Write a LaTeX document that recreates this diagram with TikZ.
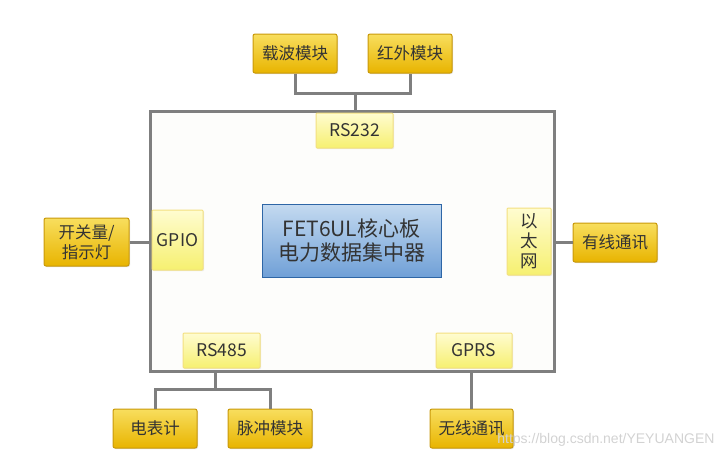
\documentclass[tikz,border=0pt]{standalone}
\usepackage{fontspec}
\setmainfont{Noto Sans CJK SC}
\newfontfamily\wmfont{Liberation Sans}
\usetikzlibrary{positioning, shadows}

\definecolor{goldtop}{HTML}{F8DE5E}
\definecolor{goldbot}{HTML}{E8B400}
\definecolor{goldline}{HTML}{C9990A}
\definecolor{paletop}{HTML}{FFFCD0}
\definecolor{palebot}{HTML}{F6F070}
\definecolor{paleline}{HTML}{F3E080}
\definecolor{bluetop}{HTML}{C4DAF0}
\definecolor{bluebot}{HTML}{70A0D7}
\definecolor{blueline}{HTML}{2E66A6}
\definecolor{wiregray}{HTML}{7F7F7F}
\definecolor{inkgray}{HTML}{333333}
\definecolor{boardfill}{HTML}{FDFDFB}

\begin{document}
\begin{tikzpicture}[x=1pt, y=-1pt, on grid,
  module/.style={rectangle, rounded corners=2pt, draw=goldline, line width=1pt, top color=goldtop, bottom color=goldbot, minimum width=84pt, minimum height=39pt, inner sep=0pt, align=center, text=inkgray, font=\fontsize{16.5}{20}\selectfont, drop shadow={shadow xshift=1pt, shadow yshift=-1pt, opacity=.25}},
  port/.style={rectangle, rounded corners=1pt, draw=paleline, line width=1pt, top color=paletop, bottom color=palebot, inner sep=0pt, align=center, text=inkgray, font=\fontsize{17.5}{20}\selectfont, drop shadow={shadow xshift=1pt, shadow yshift=-1pt, opacity=.15}},
  core/.style={rectangle, draw=blueline, line width=1pt, top color=bluetop, bottom color=bluebot, minimum width=179pt, minimum height=73pt, inner sep=0pt, align=center, text=inkgray, font=\fontsize{21}{24}\selectfont, drop shadow={shadow xshift=1pt, shadow yshift=-1pt, opacity=.25}},
  board/.style={rectangle, draw=wiregray, line width=3pt, fill=boardfill, minimum width=404pt, minimum height=260pt, inner sep=0pt},
  wire/.style={draw=wiregray, line width=3pt}]

  \useasboundingbox (0,0) rectangle (727,459);

  % main board
  \node[board] (board) at (352,241) {};
  \node[core] (fet) at (351.5,240.5) {FET6UL核心板\\电力数据集中器};

  % interfaces on the board
  \node[port, minimum width=77pt, minimum height=35pt] (rs232) at (354.5,130.5) {RS232};
  \node[port, minimum width=51pt, minimum height=60pt] (gpio) at (177.5,240) {GPIO};
  \node[port, minimum width=44pt, minimum height=67pt] (eth) at (529,241.5) {以\\太\\网};
  \node[port, minimum width=77pt, minimum height=35pt] (rs485) at (221.5,350.5) {RS485};
  \node[port, minimum width=76pt, minimum height=35pt] (gprs) at (474,350.5) {GPRS};

  % outer modules
  \node[module] (carrier) at (295,53.5) {载波模块};
  \node[module, right=115pt of carrier] (ir) {红外模块};
  \node[module, minimum width=85pt, minimum height=48pt] (switch) at (86.5,242) {开关量/\\指示灯};
  \node[module] (wired) at (615,242.5) {有线通讯};
  \node[module] (meter) at (155,428.5) {电表计};
  \node[module, right=115pt of meter] (pulse) {脉冲模块};
  \node[module, minimum width=83pt] (wireless) at (471.5,428.5) {无线通讯};

  % wiring
  \coordinate (top) at (355,93);
  \coordinate (bot) at (215,389);
  \draw[wire] (carrier.south) |- (top) -| (ir.south);
  \draw[wire] (top) -- (top |- board.north);
  \draw[wire] (switch.east) -- (board.west |- switch.east);
  \draw[wire] (wired.west) -- (board.east |- wired.west);
  \draw[wire] (meter.north) |- (bot) -| (pulse.north);
  \draw[wire] (bot) -- (bot |- board.south);
  \draw[wire] (wireless.north) -- (wireless.north |- board.south);

  \node[text=gray!35, font=\wmfont\fontsize{14}{16}\selectfont, anchor=east] (mark) at (718,440) {https://blog.csdn.net/YEYUANGEN};

\end{tikzpicture}
\end{document}
